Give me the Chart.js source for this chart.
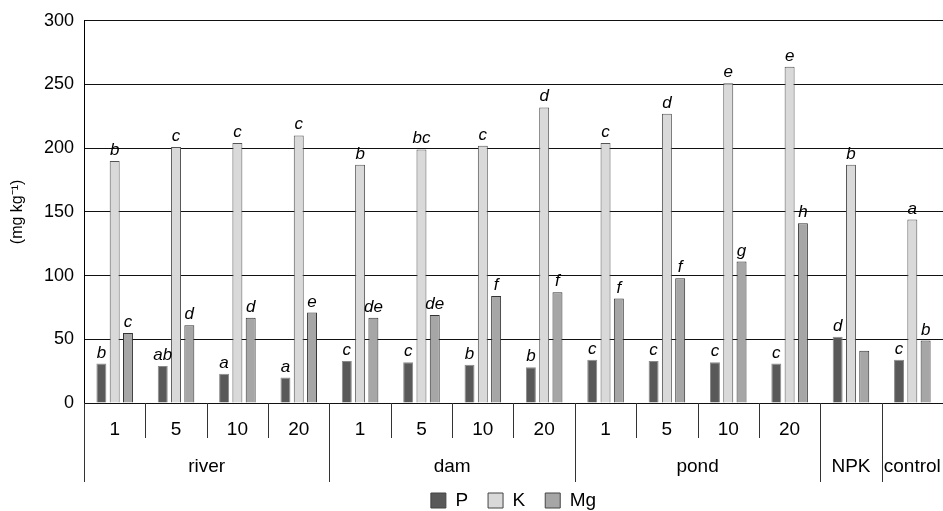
<!DOCTYPE html>
<html>
<head>
<meta charset="utf-8">
<script src="https://cdn.jsdelivr.net/npm/chart.js@4"></script>
<style>
  body { margin: 0; background: #fff; }
  #wrap { width: 943px; height: 511px; }
</style>
</head>
<body>
<div id="wrap"><canvas id="soilChart"></canvas></div>
<script>
// Sub categories (dose) and their groups (water source)
const subLabels = ['1', '5', '10', '20', '1', '5', '10', '20', '1', '5', '10', '20', '', ''];
const groupNames = ['river', 'dam', 'pond', 'NPK', 'control'];
const groupSizes = [4, 4, 4, 1, 1];

// Values (mg kg-1)
const valuesP = [31, 29, 23, 20, 33, 32, 30, 28, 34, 33, 32, 31, 52, 34];
const valuesK = [190, 201, 204, 210, 187, 199, 202, 232, 204, 227, 251, 264, 187, 144];
const valuesMg = [55, 61, 67, 71, 67, 69, 84, 87, 82, 98, 111, 141, 41, 49];

// Significance letters above the bars
const lettersP = ['b', 'ab', 'a', 'a', 'c', 'c', 'b', 'b', 'c', 'c', 'c', 'c', 'd', 'c'];
const lettersK = ['b', 'c', 'c', 'c', 'b', 'bc', 'c', 'd', 'c', 'd', 'e', 'e', 'b', 'a'];
const lettersMg = ['c', 'd', 'd', 'e', 'de', 'de', 'f', 'f', 'f', 'f', 'g', 'h', '', 'b'];

const yTicks = [0, 50, 100, 150, 200, 250, 300];

const FONT = 'Liberation Sans, Arial, sans-serif';
const allLetters = [lettersP, lettersK, lettersMg];

// letters over each bar, placed from the bar elements
const letterPlugin = {
    id: 'letters',
    afterDatasetsDraw(chart) {
        const ctx = chart.ctx;
        ctx.save();
        ctx.font = 'italic 17px ' + FONT;
        ctx.fillStyle = '#000';
        ctx.textAlign = 'center';
        ctx.textBaseline = 'alphabetic';
        chart.data.datasets.forEach((ds, i) => {
            chart.getDatasetMeta(i).data.forEach((bar, j) => {
                const txt = allLetters[i][j];
                if (txt) ctx.fillText(txt, bar.x, bar.y - 6);
            });
        });
        ctx.restore();
    }
};

// two level category axis under the plot
const groupAxisPlugin = {
    id: 'groupAxis',
    afterDraw(chart) {
        const ctx = chart.ctx;
        const xs = chart.scales.x;
        const bottom = chart.chartArea.bottom;
        const step = (xs.right - xs.left) / subLabels.length;
        ctx.save();
        ctx.strokeStyle = '#333';
        ctx.lineWidth = 1;
        ctx.fillStyle = '#000';
        ctx.textAlign = 'center';
        ctx.textBaseline = 'alphabetic';
        ctx.font = '19px ' + FONT;

        // dose labels + short separators
        subLabels.forEach((lab, i) => {
            const cx = xs.getPixelForValue(i);
            if (lab) ctx.fillText(lab, cx, bottom + 32);
            if (i > 0) {
                const x = Math.round(cx - step / 2) + 0.5;
                ctx.beginPath();
                ctx.moveTo(x, bottom);
                ctx.lineTo(x, bottom + 35);
                ctx.stroke();
            }
        });

        // group labels + long separators
        let start = 0;
        groupNames.forEach((name, g) => {
            const end = start + groupSizes[g] - 1;
            const x0 = xs.getPixelForValue(start) - step / 2;
            const x1 = xs.getPixelForValue(end) + step / 2;
            ctx.fillText(name, (x0 + x1) / 2, bottom + 69);
            const x = Math.round(x0) + 0.5;
            ctx.beginPath();
            ctx.moveTo(x, bottom);
            ctx.lineTo(x, bottom + 79);
            ctx.stroke();
            start = end + 1;
        });
        ctx.restore();
    }
};

new Chart(document.getElementById('soilChart'), {
    type: 'bar',
    data: {
        labels: subLabels.map((s, i) => i),
        datasets: [
            { label: 'P', data: valuesP, backgroundColor: '#595959', borderColor: '#8a8a8a', borderWidth: 1 },
            { label: 'K', data: valuesK, backgroundColor: '#d9d9d9', borderColor: '#555', borderWidth: 1 },
            { label: 'Mg', data: valuesMg, backgroundColor: '#a6a6a6', borderColor: '#333', borderWidth: 1 }
        ]
    },
    options: {
        responsive: true,
        maintainAspectRatio: false,
        animation: false,
        layout: { padding: { top: 19, right: 0, left: 0, bottom: 0 } },
        datasets: { bar: { categoryPercentage: 0.65, barPercentage: 0.75 } },
        plugins: {
            tooltip: { enabled: false },
            legend: {
                position: 'bottom',
                fullSize: false,
                maxHeight: 40,
                labels: {
                    boxWidth: 15,
                    boxHeight: 15,
                    padding: 20,
                    color: '#000',
                    font: { family: FONT, size: 19 },
                    generateLabels(chart) {
                        const items = Chart.defaults.plugins.legend.labels.generateLabels(chart);
                        items.forEach(it => { it.strokeStyle = '#444'; it.lineWidth = 1; });
                        return items;
                    }
                }
            }
        },
        scales: {
            x: {
                grid: { display: false },
                border: { display: false },
                ticks: { display: false },
                afterFit(scale) { scale.height = 68; }
            },
            y: {
                min: 0,
                max: 300,
                afterBuildTicks(scale) { scale.ticks = yTicks.map(v => ({ value: v })); },
                ticks: { color: '#000', padding: 10, font: { family: FONT, size: 18 } },
                grid: { color: '#111', drawTicks: false },
                border: { display: true, color: '#000' },
                title: {
                    display: true,
                    text: '(mg kg\u207B\u00B9)',
                    color: '#000',
                    padding: { top: 8, bottom: 0 },
                    font: { family: FONT, size: 16 }
                },
                afterFit(scale) { scale.width = 84; }
            }
        }
    },
    plugins: [letterPlugin, groupAxisPlugin]
});
</script>
</body>
</html>
